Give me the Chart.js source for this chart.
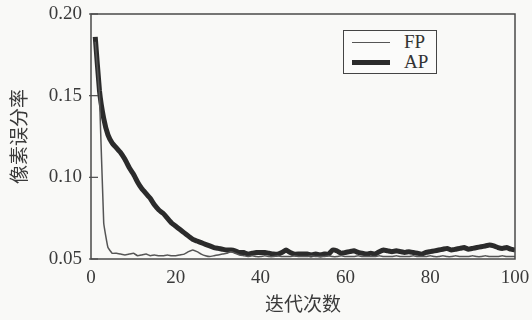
<!DOCTYPE html>
<html>
<head>
<meta charset="utf-8">
<script src="https://cdn.jsdelivr.net/npm/chart.js@4/dist/chart.umd.min.js"></script>
<style>
  html, body { margin: 0; padding: 0; background: #f9f9f7; }
  #wrap { position: relative; width: 532px; height: 320px; }
  #legend { position: absolute; left: 343px; top: 30px; width: 94px; height: 44px;
    border: 1.5px solid #444; background: #fbfbfa; box-sizing: border-box;
    font-family: "Liberation Serif", serif; font-size: 19px; color: #333; }
  .row { position: absolute; left: 8px; height: 20px; display: flex; align-items: center; }
  .sw { width: 38px; margin-right: 14px; }
</style>
</head>
<body>
<div id="wrap">
  <canvas id="c" width="532" height="320"></canvas>
  <div id="legend">
    <div class="row" style="top:1px"><div class="sw" id="swFP"></div><span id="lbFP"></span></div>
    <div class="row" style="top:21px"><div class="sw" id="swAP"></div><span id="lbAP"></span></div>
  </div>
</div>
<script>
const iterations = Array.from({length: 100}, (_, i) => i + 1);
const seriesNames = ["FP", "AP"];
const fpValues = [
  0.183, 0.150, 0.072, 0.057, 0.0535, 0.0535, 0.053, 0.0525, 0.053, 0.0535,
  0.052, 0.0525, 0.053, 0.052, 0.0525, 0.052, 0.052, 0.0525, 0.052, 0.052,
  0.0525, 0.053, 0.0545, 0.0555, 0.0545, 0.053, 0.052, 0.0515, 0.052, 0.0525,
  0.053, 0.0535, 0.0545, 0.0535, 0.0525, 0.052, 0.0515, 0.052, 0.0515, 0.0515,
  0.052, 0.0515, 0.0515, 0.052, 0.0515, 0.0515, 0.0515, 0.052, 0.0515, 0.0515,
  0.0515, 0.052, 0.0515, 0.0515, 0.0515, 0.052, 0.0515, 0.0515, 0.052, 0.0515,
  0.0515, 0.0515, 0.052, 0.0515, 0.0515, 0.0515, 0.0515, 0.052, 0.0515, 0.0515,
  0.0515, 0.052, 0.0515, 0.0515, 0.0515, 0.052, 0.0515, 0.0515, 0.0515, 0.052,
  0.0515, 0.0515, 0.052, 0.0515, 0.0515, 0.052, 0.0515, 0.0515, 0.0515, 0.052,
  0.0515, 0.0515, 0.052, 0.0515, 0.0515, 0.0515, 0.052, 0.0515, 0.0515, 0.0515
];
const apValues = [
  0.186, 0.153, 0.136, 0.126, 0.121, 0.118, 0.115, 0.111, 0.106, 0.102,
  0.097, 0.093, 0.090, 0.087, 0.083, 0.080, 0.078, 0.075, 0.072, 0.070,
  0.068, 0.066, 0.064, 0.062, 0.061, 0.060, 0.059, 0.058, 0.057, 0.0565,
  0.056, 0.0555, 0.0555, 0.055, 0.054, 0.054, 0.053, 0.0535, 0.054, 0.054,
  0.054, 0.0535, 0.053, 0.053, 0.054, 0.0555, 0.054, 0.053, 0.053, 0.053,
  0.053, 0.0525, 0.053, 0.0525, 0.053, 0.053, 0.0555, 0.055, 0.0535, 0.054,
  0.0545, 0.055, 0.054, 0.0535, 0.053, 0.0535, 0.053, 0.0545, 0.0555, 0.055,
  0.0545, 0.055, 0.0545, 0.054, 0.0545, 0.054, 0.0535, 0.053, 0.054, 0.0545,
  0.055, 0.0555, 0.056, 0.0565, 0.0555, 0.056, 0.0565, 0.057, 0.056, 0.0565,
  0.057, 0.0575, 0.058, 0.0585, 0.058, 0.057, 0.0565, 0.057, 0.056, 0.0555
];
const yTickValues = [0.05, 0.10, 0.15, 0.20];
const xTickValues = [0, 20, 40, 60, 80, 100];
const xTitle = "迭代次数";
const yTitle = "像素误分率";

const textColor = "#3a3a3a";
const axisColor = "#4a4a4a";
const fpColor = "#555555";
const apColor = "#2b2b2b";

document.getElementById("lbFP").textContent = seriesNames[0];
document.getElementById("lbAP").textContent = seriesNames[1];
document.getElementById("swFP").style.borderTop = "1.5px solid " + fpColor;
document.getElementById("swAP").style.borderTop = "5px solid " + apColor;

const framePlugin = {
  id: "frame",
  afterDatasetsDraw(chart) {
    const {ctx, chartArea: a, scales} = chart;
    ctx.save();
    ctx.strokeStyle = axisColor;
    ctx.lineWidth = 1.5;
    ctx.strokeRect(a.left, a.top, a.right - a.left, a.bottom - a.top);
    ctx.lineWidth = 1.2;
    yTickValues.forEach(v => {
      const y = scales.y.getPixelForValue(v);
      ctx.beginPath();
      ctx.moveTo(a.left - 2, y);
      ctx.lineTo(a.left + 7, y);
      ctx.stroke();
    });
    ctx.restore();
  }
};

new Chart(document.getElementById("c"), {
  type: "line",
  data: {
    labels: iterations,
    datasets: [
      { label: seriesNames[0], data: fpValues.map((v, i) => ({x: iterations[i], y: v})),
        borderColor: fpColor, borderWidth: 1.5, pointRadius: 0, tension: 0.1, order: 0 },
      { label: seriesNames[1], data: apValues.map((v, i) => ({x: iterations[i], y: v})),
        borderColor: apColor, borderWidth: 5, pointRadius: 0, tension: 0.1, order: 1 }
    ]
  },
  options: {
    responsive: false,
    animation: false,
    layout: { padding: { top: 14, right: 17, left: 0, bottom: 0 } },
    plugins: { legend: { display: false }, tooltip: { enabled: false } },
    scales: {
      x: {
        type: "linear", min: 0, max: 100,
        afterFit(s) { s.height = 61; s.paddingLeft = 0; s.paddingRight = 0; },
        afterBuildTicks(s) { s.ticks = xTickValues.map(v => ({value: v})); },
        grid: { display: false, drawTicks: false },
        border: { display: false },
        ticks: { color: textColor, padding: 8, maxRotation: 0,
          font: { family: "Liberation Serif", size: 19 } },
        title: { display: true, text: xTitle, color: textColor,
          padding: { top: 0, bottom: 5 },
          font: { family: "Noto Sans CJK SC", size: 19 } }
      },
      y: {
        min: 0.05, max: 0.20,
        afterFit(s) { s.width = 91; s.paddingTop = 0; s.paddingBottom = 0; },
        afterBuildTicks(s) { s.ticks = yTickValues.map(v => ({value: v})); },
        grid: { display: false, drawTicks: false },
        border: { display: false },
        ticks: { color: textColor, padding: 9,
          font: { family: "Liberation Serif", size: 19 },
          callback: v => v.toFixed(2) },
        title: { display: true, text: yTitle, color: textColor,
          padding: { top: 7, bottom: 0 },
          font: { family: "Noto Sans CJK SC", size: 19 } }
      }
    }
  },
  plugins: [framePlugin]
});
</script>
</body>
</html>
